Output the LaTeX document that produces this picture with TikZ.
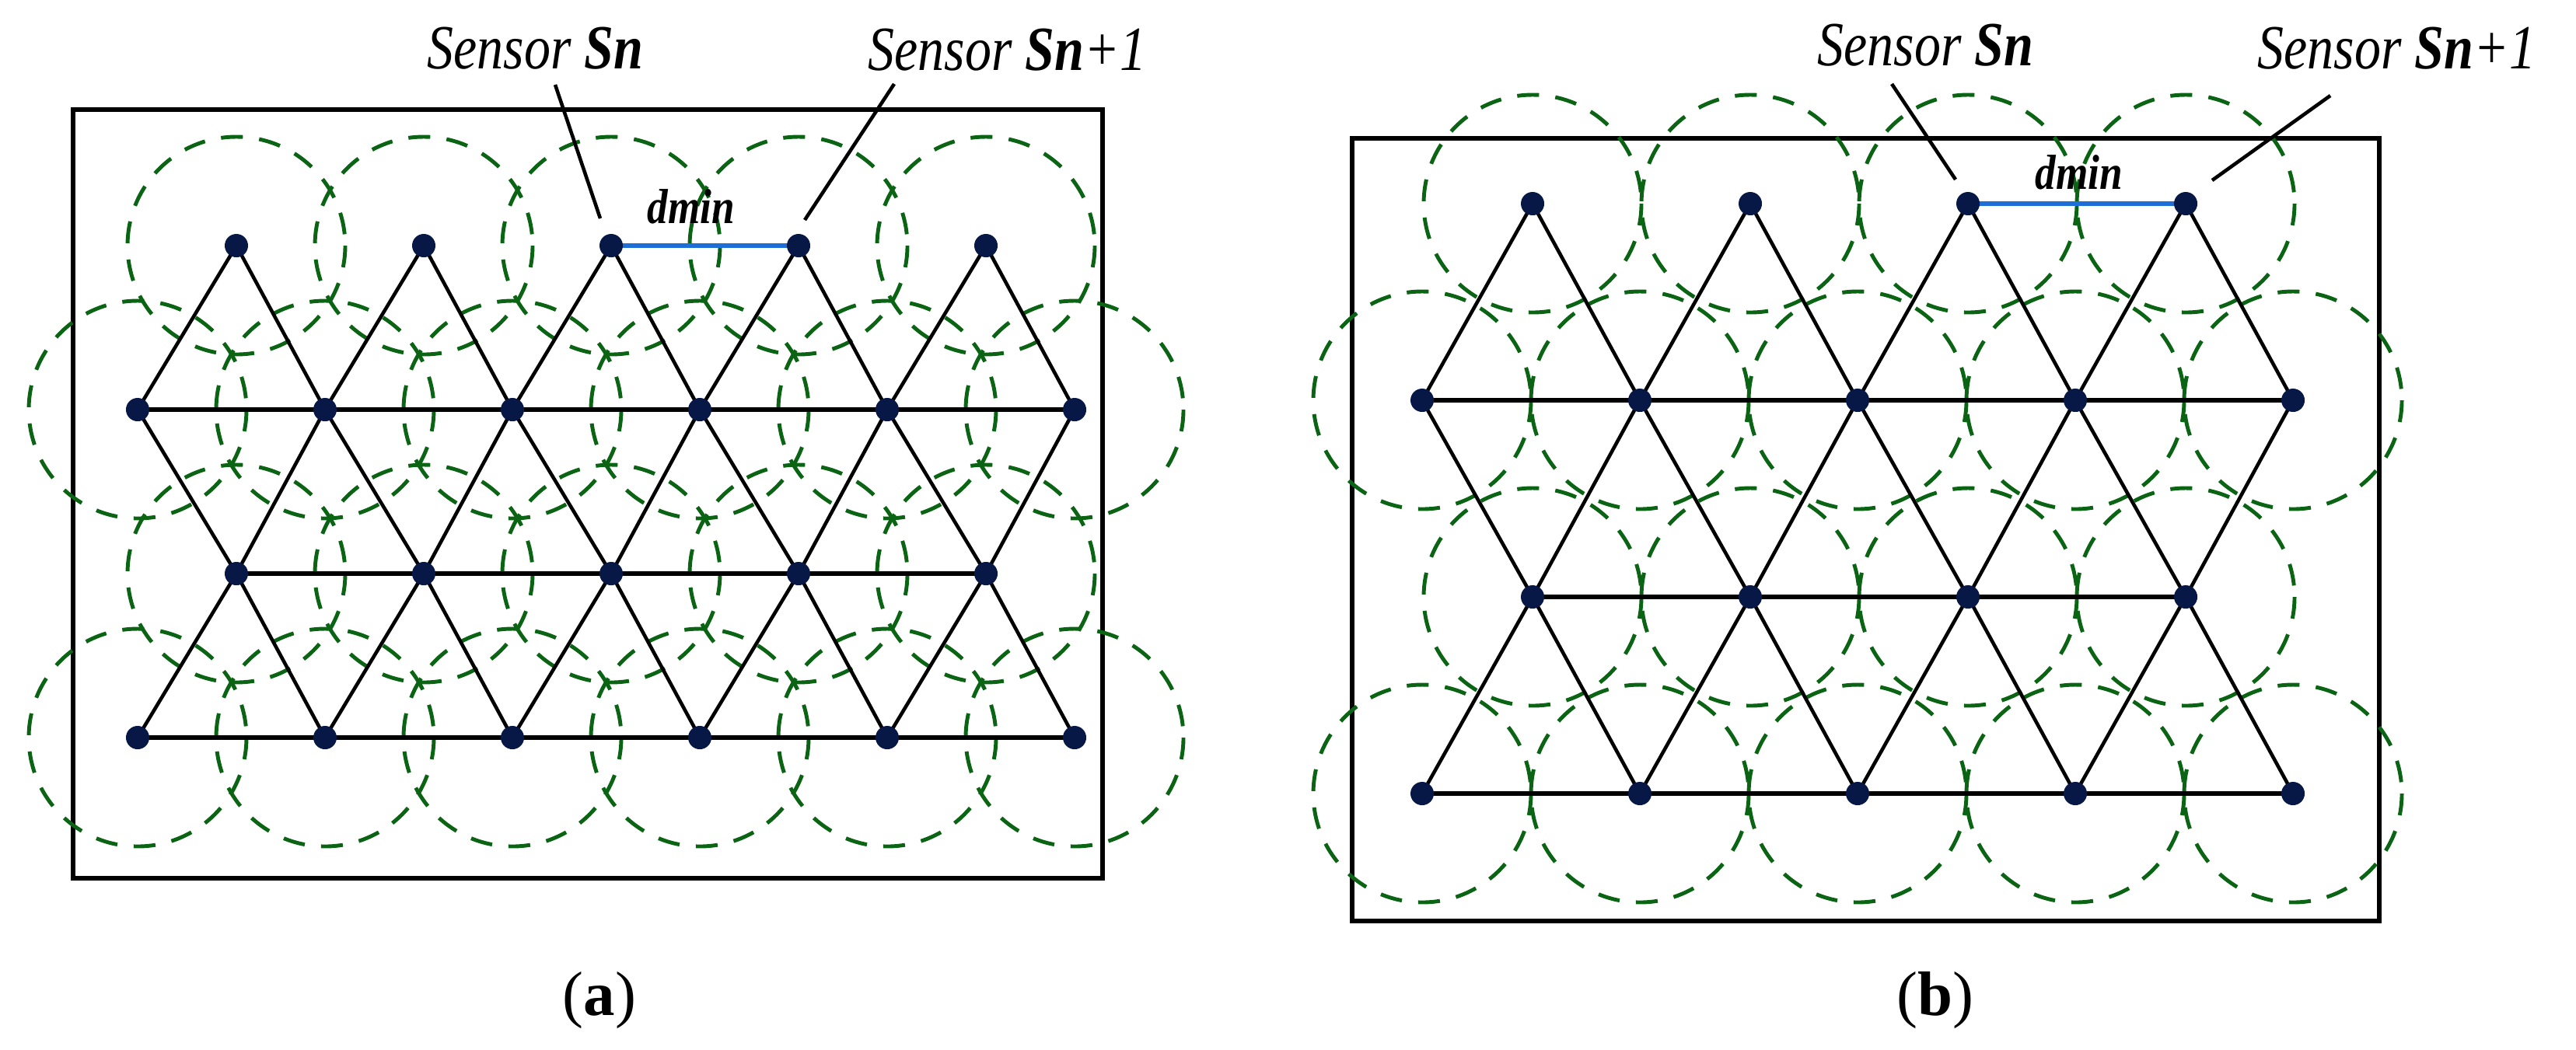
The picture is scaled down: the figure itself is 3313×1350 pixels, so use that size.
\documentclass[tikz,border=0pt]{standalone}
\usepackage{fontspec}
\setmainfont{Liberation Serif}
\definecolor{dotblue}{RGB}{8,24,70}
\definecolor{rangegreen}{RGB}{10,100,20}
\definecolor{dminblue}{RGB}{30,110,215}
\newcommand{\narrow}[1]{\scalebox{0.84}[1]{#1}}
\tikzset{
    sensor/.style={circle, fill=dotblue, inner sep=0pt, minimum size=0.3cm},
    sensing/.style={rangegreen, line width=1.4pt, dash pattern=on 8pt off 6pt},
    meshline/.style={line width=1.3pt},
    hline/.style={line width=1.8pt},
    boxline/.style={line width=1.6pt},
    lbl/.style={font=\fontsize{23}{26}\selectfont\itshape, anchor=base west, inner sep=0pt},
    dlbl/.style={font=\fontsize{18}{20}\selectfont\bfseries\itshape, inner sep=0pt},
    captext/.style={font=\fontsize{23}{27}\selectfont, inner sep=0pt}
}
\begin{document}
\begin{tikzpicture}[x=0.01cm, y=-0.01cm]
    \useasboundingbox (0,0) rectangle (3313,1350);

    % frames
    \draw[boxline] (94,141) rectangle (1418,1130);
    \draw[boxline] (1739,178) rectangle (3060,1185);

    % sensors of (a): odd rows shifted by half a step
    \foreach \r in {1,3} \foreach \i in {1,...,5}
        \coordinate (a\r\i) at ({304+241*(\i-1)},{316+211*(\r-1)});
    \foreach \r in {2,4} \foreach \i in {1,...,6}
        \coordinate (a\r\i) at ({177+241*(\i-1)},{316+211*(\r-1)});

    % sensors of (b)
    \foreach \r in {1,3} \foreach \i in {1,...,4}
        \coordinate (b\r\i) at ({1971+280*(\i-1)},{262+253*(\r-1)});
    \foreach \r in {2,4} \foreach \i in {1,...,5}
        \coordinate (b\r\i) at ({1829+280*(\i-1)},{262+253*(\r-1)});

    % sensing ranges
    \foreach \r/\n in {1/5,2/6,3/5,4/6} \foreach \i in {1,...,\n}
        \draw[sensing] (a\r\i) circle (140);
    \foreach \r/\n in {1/4,2/5,3/4,4/5} \foreach \i in {1,...,\n}
        \draw[sensing] (b\r\i) circle (140);

    % triangle mesh (a)
    \foreach \r in {2,3,4} {
        \pgfmathtruncatemacro{\n}{mod(\r,2)==0 ? 6 : 5}
        \draw[hline] (a\r1) -- (a\r\n);
    }
    \foreach \r/\s in {1/2,3/2,3/4} \foreach \i in {1,...,5} {
        \pgfmathtruncatemacro{\j}{\i+1}
        \draw[meshline] (a\s\i) -- (a\r\i) -- (a\s\j);
    }

    % triangle mesh (b)
    \foreach \r in {2,3,4} {
        \pgfmathtruncatemacro{\n}{mod(\r,2)==0 ? 5 : 4}
        \draw[hline] (b\r1) -- (b\r\n);
    }
    \foreach \r/\s in {1/2,3/2,3/4} \foreach \i in {1,...,4} {
        \pgfmathtruncatemacro{\j}{\i+1}
        \draw[meshline] (b\s\i) -- (b\r\i) -- (b\s\j);
    }

    % minimum distance
    \draw[dminblue, line width=1.8pt] (a13) -- (a14);
    \draw[dminblue, line width=1.8pt] (b13) -- (b14);

    % sensor dots
    \foreach \r/\n in {1/5,2/6,3/5,4/6} \foreach \i in {1,...,\n}
        \node[sensor] (sa\r\i) at (a\r\i) {};
    \foreach \r/\n in {1/4,2/5,3/4,4/5} \foreach \i in {1,...,\n}
        \node[sensor] (sb\r\i) at (b\r\i) {};

    % labels (a)
    \node[lbl] (snA) at (549,88) {\narrow{Sensor \textbf{Sn}}};
    \node[lbl] (snnA) at (1116,90) {\narrow{Sensor \textbf{Sn}+\textit{1}}};
    \node[dlbl] (dA) at (889,266) {\narrow{dmin}};
    \coordinate (pA) at (772,281);
    \coordinate (qA) at (1035,283);
    \draw[meshline] (714,109) -- (pA);
    \draw[meshline] (1150,108) -- (qA);

    % labels (b)
    \node[lbl] (snB) at (2337,84) {\narrow{Sensor \textbf{Sn}}};
    \node[lbl] (snnB) at (2903,88) {\narrow{Sensor \textbf{Sn}+\textit{1}}};
    \node[dlbl] (dB) at (2674,222) {\narrow{dmin}};
    \coordinate (pB) at (2515,231);
    \coordinate (qB) at (2845,232);
    \draw[meshline] (2433,108) -- (pB);
    \draw[meshline] (2997,123) -- (qB);

    % captions
    \node[captext] (capA) at (771,1287) {(\textbf{a})};
    \node[captext] (capB) at (2489,1287) {(\textbf{b})};
\end{tikzpicture}
\end{document}
